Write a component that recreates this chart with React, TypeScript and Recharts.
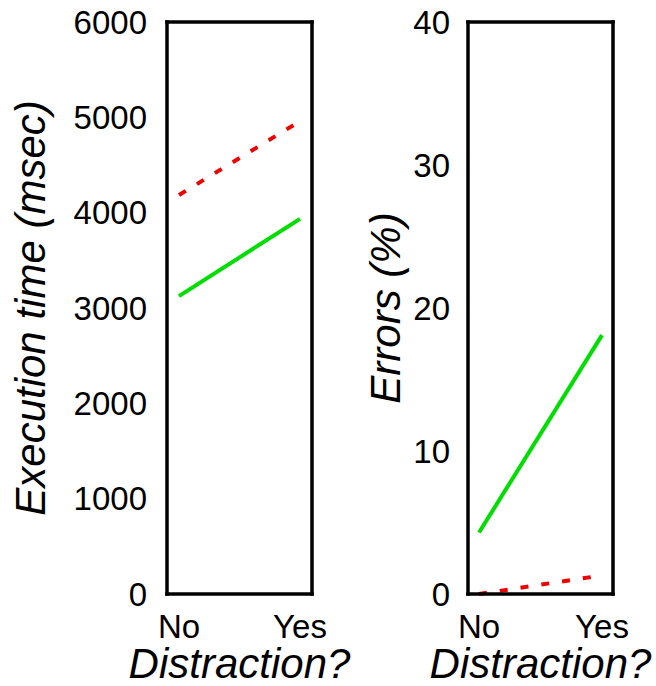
import React from 'react';
import { LineChart, Line, XAxis, YAxis, Label } from 'recharts';

const conditions = ['No', 'Yes'];
const timeDistracted = [4185, 4960];
const timeBaseline = [3125, 3935];
const errorsBaseline = [4.3, 18.1];
const errorsDistracted = [0, 1.3];
const timeTicks = [0, 1000, 2000, 3000, 4000, 5000, 6000];
const errorTicks = [0, 10, 20, 30, 40];

const FONT = '"Liberation Sans", Arial, sans-serif';
const GREEN = '#00dd00';
const RED = '#ee0000';

const timeData = conditions.map((c, i) => ({ c, red: timeDistracted[i], green: timeBaseline[i] }));
const errorData = conditions.map((c, i) => ({ c, red: errorsDistracted[i], green: errorsBaseline[i] }));

const frame = { stroke: '#000', strokeWidth: 3.5, strokeLinecap: 'square' as const };

const xTitle = (props: any) => {
  const { viewBox } = props;
  return (
    <text
      x={viewBox.x + viewBox.width / 2}
      y={678}
      textAnchor="middle"
      fontSize={42}
      fontStyle="italic"
      fontFamily={FONT}
      fill="#000"
    >
      Distraction?
    </text>
  );
};

const yTitle = (text: string, baseX: number) => (props: any) => {
  const { viewBox } = props;
  const cy = viewBox.y + viewBox.height / 2;
  return (
    <text
      x={baseX}
      y={cy}
      transform={`rotate(-90, ${baseX}, ${cy})`}
      textAnchor="middle"
      fontSize={42}
      fontStyle="italic"
      fontFamily={FONT}
      fill="#000"
    >
      {text}
    </text>
  );
};

type PanelProps = {
  data: any[];
  width: number;
  axisWidth: number;
  marginRight: number;
  max: number;
  ticks: number[];
  title: string;
  titleX: number;
  tickGap: number;
  inset: number;
};

const Panel: React.FC<PanelProps> = ({ data, width, axisWidth, marginRight, max, ticks, title, titleX, tickGap, inset }) => {
  const tickStyle = { fontSize: 33, fill: '#000', fontFamily: FONT };
  return (
    <LineChart
      width={width}
      height={686}
      data={data}
      margin={{ top: 21, right: marginRight, bottom: 0, left: 0 }}
      style={{ overflow: 'visible' }}
    >
      <XAxis
        dataKey="c"
        height={92}
        axisLine={frame}
        tickLine={false}
        tickSize={0}
        tickMargin={21}
        tick={tickStyle}
        padding={{ left: inset, right: inset }}
        interval={0}
      >
        <Label content={xTitle} />
      </XAxis>
      <XAxis
        xAxisId="top"
        orientation="top"
        dataKey="c"
        height={1}
        axisLine={frame}
        tick={false}
        tickLine={false}
        padding={{ left: inset, right: inset }}
      />
      <YAxis
        width={axisWidth}
        domain={[0, max]}
        ticks={ticks}
        axisLine={frame}
        tickLine={false}
        tickSize={0}
        tickMargin={tickGap}
        tick={tickStyle}
        interval={0}
      >
        <Label content={yTitle(title, titleX)} />
      </YAxis>
      <YAxis
        yAxisId="right"
        orientation="right"
        width={1}
        domain={[0, max]}
        axisLine={frame}
        tick={false}
        tickLine={false}
      />
      {/* invisible series so the top/right frame axes get drawn */}
      <Line
        xAxisId="top"
        yAxisId="right"
        dataKey="green"
        stroke="none"
        dot={false}
        legendType="none"
        isAnimationActive={false}
      />
      <Line dataKey="green" stroke={GREEN} strokeWidth={4} dot={false} isAnimationActive={false} />
      <Line dataKey="red" stroke={RED} strokeWidth={4} strokeDasharray="8 13" dot={false} isAnimationActive={false} />
    </LineChart>
  );
};

const App: React.FC = () => {
  return (
    <div style={{ position: 'absolute', left: 0, top: 0, width: 656, height: 686, background: '#fff' }}>
      <div style={{ position: 'absolute', left: 0, top: 0 }}>
        <Panel
          data={timeData}
          width={360}
          axisWidth={167}
          marginRight={47}
          max={6000}
          ticks={timeTicks}
          title="Execution time (msec)"
          titleX={45}
          tickGap={20}
          inset={12}
        />
      </div>
      <div style={{ position: 'absolute', left: 330, top: 0 }}>
        <Panel
          data={errorData}
          width={326}
          axisWidth={138}
          marginRight={42}
          max={40}
          ticks={errorTicks}
          title="Errors (%)"
          titleX={70}
          tickGap={18}
          inset={11}
        />
      </div>
    </div>
  );
};

export default App;
